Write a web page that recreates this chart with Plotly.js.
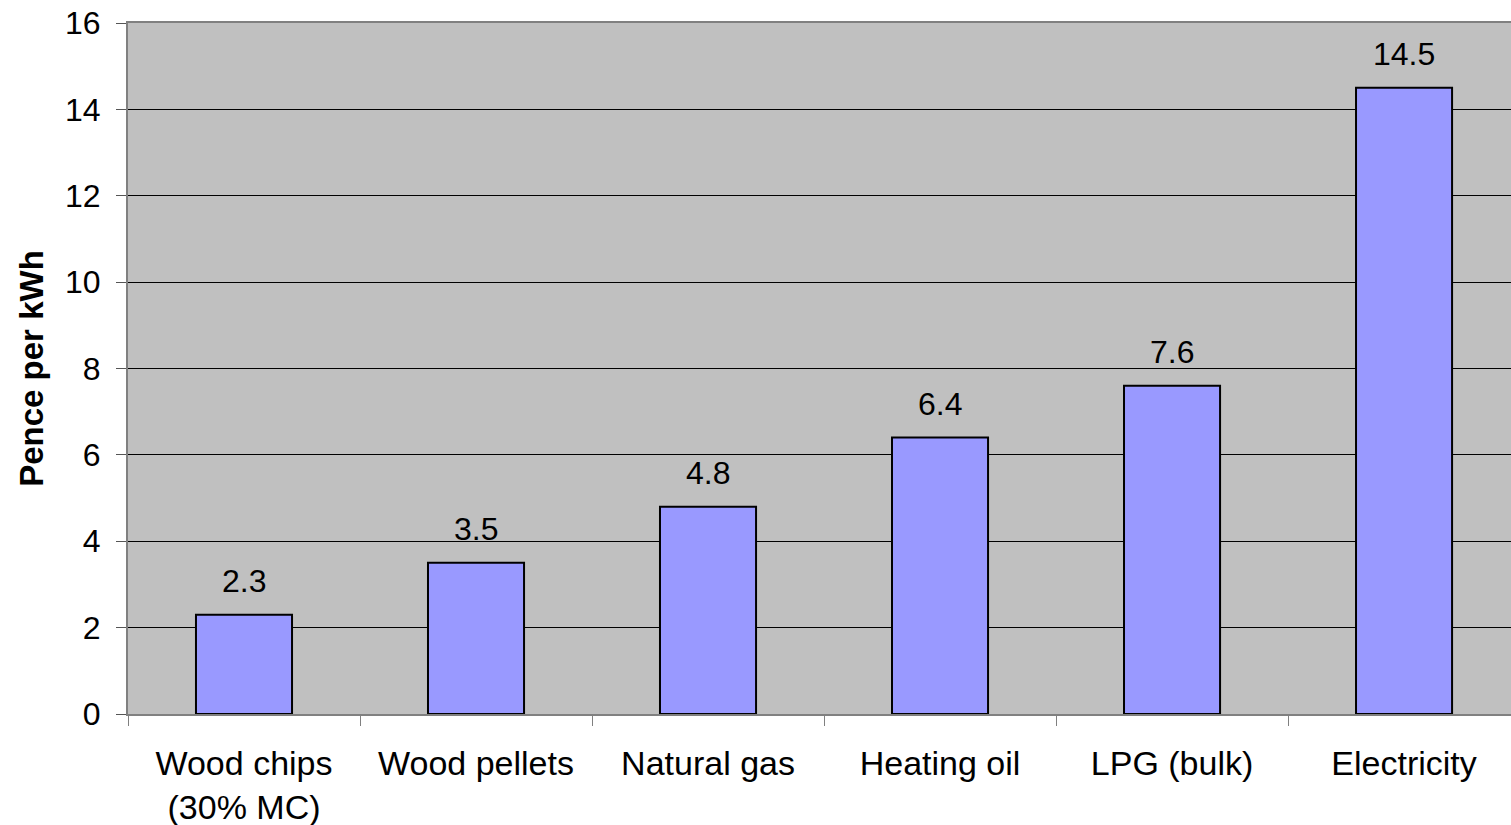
<!DOCTYPE html>
<html>
<head>
<meta charset="utf-8">
<script src="https://cdn.plot.ly/plotly-3.0.1.min.js"></script>
<style>html,body{margin:0;padding:0;background:#fff;overflow:hidden}</style>
</head>
<body>
<div id="chart" style="width:1511px;height:825px"></div>
<script>
const categories = ["Wood chips<br>(30% MC)", "Wood pellets", "Natural gas", "Heating oil", "LPG (bulk)", "Electricity"];
const values = [2.3, 3.5, 4.8, 6.4, 7.6, 14.5];
const labels = ["2.3", "3.5", "4.8", "6.4", "7.6", "14.5"];
const yTicks = [0, 2, 4, 6, 8, 10, 12, 14, 16];

const FONT = "Liberation Sans, Arial, sans-serif";

const trace = {
  type: "bar",
  x: categories,
  y: values,
  width: 0.414,
  marker: {color: "#9999FF", line: {color: "#000000", width: 2}},
  hoverinfo: "x+y"
};

const annotations = categories.map((c, i) => ({
  x: c, y: values[i], xref: "x", yref: "y",
  text: labels[i], showarrow: false,
  yanchor: "bottom", yshift: 14,
  font: {family: FONT, size: 32, color: "#000"}
}));

const layout = {
  width: 1511, height: 825,
  margin: {l: 128, r: 0, t: 23, b: 111, pad: 0},
  paper_bgcolor: "#ffffff",
  plot_bgcolor: "#C0C0C0",
  showlegend: false,
  bargap: 0.586,
  xaxis: {
    type: "category",
    range: [-0.5, 5.461],
    tickson: "boundaries",
    ticks: "outside", ticklen: 10, tickwidth: 1, tickcolor: "#808080",
    ticklabelstandoff: 18,
    showline: true, linecolor: "#808080", linewidth: 2, mirror: true,
    showgrid: false,
    tickfont: {family: FONT, size: 34, color: "#000"},
    tickangle: 0,
    fixedrange: true
  },
  yaxis: {
    range: [0, 16],
    tickvals: yTicks,
    ticktext: yTicks.map(String),
    ticks: "outside", ticklen: 10, tickwidth: 1, tickcolor: "#555555",
    ticklabelstandoff: 9,
    showline: true, linecolor: "#808080", linewidth: 2,
    showgrid: true, gridcolor: "#000000", gridwidth: 1,
    zeroline: false,
    tickfont: {family: FONT, size: 32, color: "#000"},
    title: {text: "<b>Pence per kWh</b>", font: {family: FONT, size: 33, color: "#000"}, standoff: 11},
    fixedrange: true
  },
  annotations: annotations
};

Plotly.newPlot("chart", [trace], layout, {displayModeBar: false, staticPlot: true});
</script>
</body>
</html>
